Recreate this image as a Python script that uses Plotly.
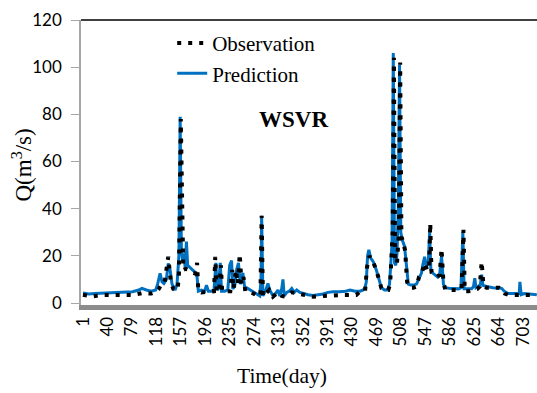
import plotly.graph_objects as go

# ---- data ----
obs_day = [1, 8, 15, 31, 48, 65, 81, 95, 110, 118, 122, 126, 131, 137, 141, 145, 148, 152, 154, 157,
           159, 161, 165, 170, 175, 180, 183, 185, 190, 198, 205, 210, 212, 214, 218, 221, 223, 230,
           236, 239, 241, 245, 248, 251, 254, 257, 260, 266, 272, 280, 284, 286, 288, 293, 298, 304,
           312, 318, 324, 334, 342, 352, 368, 384, 400, 415, 427, 437, 443, 451, 454, 458, 462, 466,
           470, 474, 477, 483, 488, 491, 493, 495, 497, 499, 502, 505, 507, 509, 512, 515, 518, 522,
           528, 533, 537, 541, 546, 550, 553, 555, 557, 562, 566, 570, 573, 576, 579, 585, 592, 600,
           605, 608, 610, 616, 621, 626, 630, 634, 637, 640, 645, 655, 665, 669, 674, 680, 690, 700,
           710, 719, 725]
obs_q = [3.5, 3.2, 2.7, 3.4, 3.4, 3.6, 3.4, 4.2, 4.0, 4.8, 6, 8, 8.5, 19.6, 9, 6, 5.5, 5.5, 12, 78,
         30, 14, 14.5, 14, 13, 12.5, 17, 5, 4.5, 4.5, 4.8, 5, 19.6, 5, 4.6, 16, 5, 5,
         5, 14, 6, 14, 8, 20.8, 8, 11, 5, 5, 4, 3, 3, 37, 2.7, 4, 5.5, 2.7,
         4.5, 3, 2.7, 4.5, 4, 3.5, 2.7, 3, 3.4, 3.4, 3.4, 3.4, 4.8, 5, 15, 20, 18, 16,
         13, 9, 6.3, 5.5, 5.5, 8, 17, 30, 104, 17, 17, 30, 102, 28, 26, 22, 9, 6.5,
         6.5, 7, 11, 12, 17, 14, 14, 33.8, 13, 12, 11, 12, 23, 9, 5.5, 5.5, 5.5, 5.5,
         6, 31, 5, 5, 5.5, 6, 6, 7, 17.5, 7, 6.5, 6.5, 6.5, 6, 4, 3.4, 3.4, 3.4,
         3.4, 3, 3.4]

pred_day = [1, 10, 20, 35, 50, 65, 80, 90, 95, 102, 110, 117, 120, 124, 127, 130, 134, 137, 140, 143,
            146, 148, 151, 154, 156, 158, 160, 162, 164, 166, 168, 172, 176, 180, 183, 185, 190, 195,
            198, 201, 206, 210, 213, 215, 217, 220, 222, 227, 232, 235, 238, 240, 243, 246, 249, 252,
            256, 259, 262, 268, 276, 283, 285, 286, 288, 292, 296, 299, 304, 308, 312, 315, 318, 320,
            322, 326, 330, 334, 338, 342, 347, 352, 360, 368, 376, 384, 392, 400, 410, 420, 427, 435,
            443, 448, 451, 453, 455, 457, 460, 464, 469, 473, 477, 482, 487, 490, 492, 494, 496, 498,
            500, 502, 504, 506, 508, 510, 514, 517, 520, 524, 528, 533, 538, 541, 543, 546, 549, 552,
            554, 556, 559, 563, 567, 570, 573, 576, 579, 585, 592, 600, 604, 607, 609, 615, 621, 624,
            626, 628, 632, 635, 637, 639, 645, 655, 665, 669, 673, 679, 690, 697, 698, 700, 705, 712,
            719, 725]
pred_q = [4.2, 3.8, 4.0, 4.2, 4.3, 4.8, 4.8, 5.5, 6.2, 5.5, 5.0, 5.5, 8, 12.6, 9, 8.3, 10, 16.8, 14, 8,
          6.5, 5.5, 8, 20, 79, 22, 18, 21, 15, 26, 16, 15, 14, 13, 11, 5, 5.5, 5,
          7.6, 5, 5, 5.5, 17, 5.5, 6, 17, 5, 5, 5.5, 16, 18, 6, 7, 14, 17, 8,
          12.7, 6.5, 6.5, 5.5, 4, 3, 10, 37, 3, 5, 8.3, 5.5, 3, 4, 5.5, 3, 6, 10,
          3, 4.5, 5, 6.2, 4.5, 5.5, 4.5, 4, 3.5, 3.2, 3.5, 3.8, 4.5, 4.8, 4.8, 5, 5.5, 5,
          5, 5.5, 6.5, 9, 20, 22.5, 19, 17.5, 14, 10, 6.5, 5.5, 5.5, 8, 16, 25, 106, 17,
          16, 21, 40, 101, 30, 27, 24, 15, 8, 7.6, 7.6, 8, 11, 12.7, 16, 19.6, 15, 18,
          30, 14, 12.7, 12, 11, 12, 20, 8, 6.5, 6.3, 6.3, 6, 6.5, 30, 6, 6, 6, 7,
          10.5, 6.5, 7, 8, 12, 7.5, 7, 6.5, 6.5, 6.2, 5, 4, 4, 4, 9, 3.5, 4, 3.8,
          3.5, 3.5]

tick_days = [1, 40, 79, 118, 157, 196, 235, 274, 313, 352, 391, 430, 469, 508, 547, 586, 625, 664, 703]
y_ticks = [0, 20, 40, 60, 80, 100, 120]

SERIF = "Liberation Serif"
SANS = "Lato"

fig = go.Figure()
fig.add_trace(go.Scatter(x=pred_day, y=pred_q, mode="lines", name="Prediction",
                         line=dict(color="#0070C0", width=3), legendrank=2))
fig.add_trace(go.Scatter(x=obs_day, y=obs_q, mode="lines", name="Observation",
                         line=dict(color="black", width=4, dash="4px,7px"), legendrank=1))

fig.update_layout(
    width=537, height=393,
    margin=dict(l=81, r=0, t=20, b=88),
    paper_bgcolor="white", plot_bgcolor="white",
    showlegend=True,
    legend=dict(x=0.2, y=0.99, xanchor="left", yanchor="top",
                font=dict(family=SERIF, size=21, color="black"),
                bgcolor="rgba(0,0,0,0)", tracegroupgap=0),
    xaxis=dict(range=[-2.2, 725.3], tickmode="array", tickvals=tick_days,
               ticktext=[str(t) for t in tick_days], tickangle=-90,
               showgrid=False, zeroline=False, ticks="",
               showline=True, linecolor="#8c8c8c", linewidth=5,
               tickfont=dict(family=SANS, size=17, color="black")),
    yaxis=dict(range=[-0.85, 120], tickmode="array", tickvals=y_ticks,
               showgrid=False, zeroline=False, ticks="outside", ticklen=8,
               tickcolor="#a6a6a6", showline=True, linecolor="#a6a6a6", linewidth=1.5,
               ticklabelstandoff=6,
               tickfont=dict(family=SANS, size=17, color="black")),
    shapes=[dict(type="line", xref="paper", yref="paper", x0=0, x1=1, y0=1, y1=1,
                 line=dict(color="black", width=1.5))],
    annotations=[
        dict(text="<b>WSVR</b>", xref="paper", yref="paper", x=0.465, y=0.65,
             xanchor="center", yanchor="middle", showarrow=False,
             font=dict(family=SERIF, size=23, color="black")),
        dict(text="Q(m<sup>3</sup>/s)", xref="paper", yref="paper", x=-0.129, y=0.49,
             xanchor="center", yanchor="middle", textangle=-90, showarrow=False,
             font=dict(family=SERIF, size=23, color="black")),
        dict(text="Time(day)", xref="paper", yref="paper", x=0.441, y=-0.249,
             xanchor="center", yanchor="middle", showarrow=False,
             font=dict(family=SERIF, size=21.5, color="black")),
    ],
)

fig.write_html("out.html")
